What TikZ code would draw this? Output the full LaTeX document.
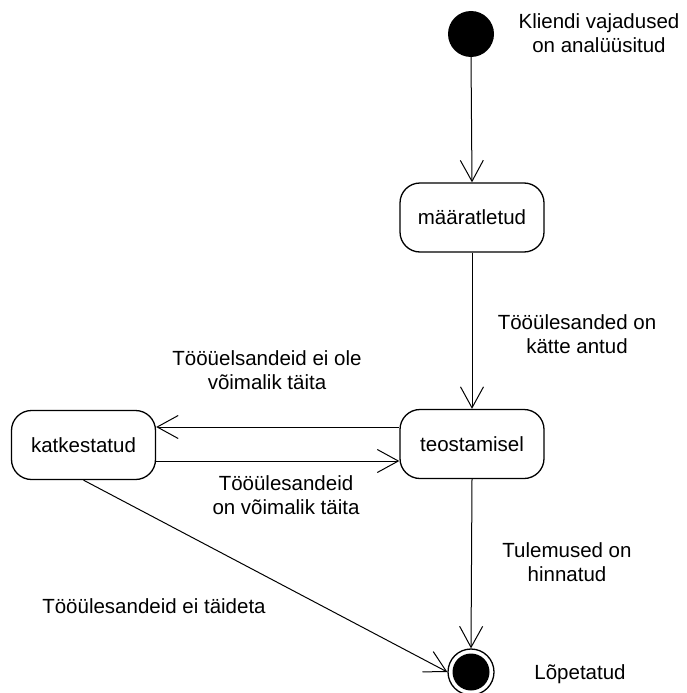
\documentclass[tikz,border=0pt]{standalone}
\usepackage{fontspec}
\setmainfont{Liberation Sans}
\usetikzlibrary{arrows.meta}
\begin{document}
\begin{tikzpicture}[x=1pt,y=-1pt,
  every node/.style={font=\fontsize{20.5}{24}\selectfont},
  state/.style={draw,line width=1.3pt,rounded corners=20pt,minimum width=144pt,minimum height=69pt,inner sep=0pt},
  lbl/.style={align=center,inner sep=0pt},
  trans/.style={line width=1pt,-{Straight Barb[length=21pt,width=23pt,line width=1pt]}}]
\useasboundingbox (0,0) rectangle (687,693);
\node[circle,fill=black,minimum size=46pt,inner sep=0pt] (init) at (471,34) {};
\node[state] (def) at (472,217.5) {määratletud};
\node[state] (teo) at (472,444) {teostamisel};
\node[state] (katk) at (83.5,445) {katkestatud};
\node[circle,draw,line width=1.3pt,minimum size=46pt,inner sep=0pt] (fin) at (471,672) {};
\node[circle,fill=black,minimum size=37pt,inner sep=0pt] (finin) at (fin.center) {};

\coordinate (t1) at (teo.west |- 0,427);
\coordinate (k1) at (katk.east |- 0,427);
\coordinate (t2) at (teo.west |- 0,461);
\coordinate (k2) at (katk.east |- 0,461);

\draw[trans] (init.south) -- (def.north);
\draw[trans] (def.south) -- (teo.north);
\draw[trans] (t1) -- (k1);
\draw[trans] (k2) -- (t2);
\draw[trans] (teo.south) -- (fin.north);
\draw[trans] (katk.south) -- (fin.west);

\node[lbl] (l1) at (599,33) {Kliendi vajadused\\on analüüsitud};
\node[lbl] (l2) at (577,334) {Tööülesanded on\\kätte antud};
\node[lbl] (l3) at (267,370) {Tööüelsandeid ei ole\\võimalik täita};
\node[lbl] (l4) at (286,495) {Tööülesandeid\\on võimalik täita};
\node[lbl] (l5) at (567,562) {Tulemused on\\hinnatud};
\node[lbl] (l6) at (154,606) {Tööülesandeid ei täideta};
\node[lbl] (l7) at (580,674) {Lõpetatud};
\end{tikzpicture}
\end{document}
